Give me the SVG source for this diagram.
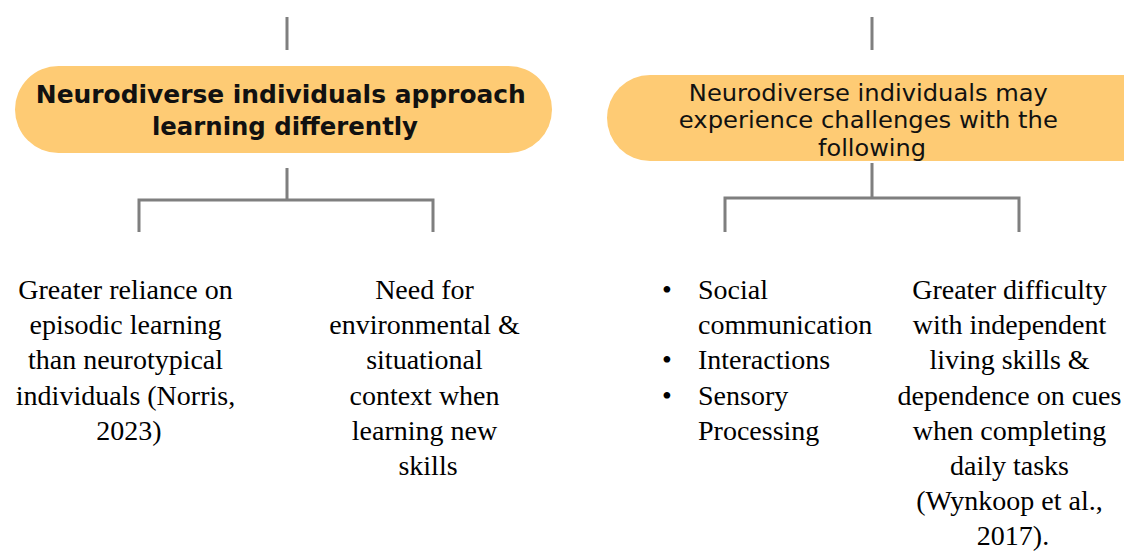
<svg xmlns="http://www.w3.org/2000/svg" width="1124" height="554" viewBox="0 0 1124 554">
  <style>
    .box { fill: #FECB74; }
    .conn { fill: none; stroke: #7F7F7F; stroke-width: 3; }
    .head { font-family: "DejaVu Sans", "Liberation Sans", sans-serif; fill: #111; text-anchor: middle; }
    .body { font-family: "Liberation Serif", "Times New Roman", serif; font-size: 28px; fill: #000; }
    .mid { text-anchor: middle; }
  </style>
  <rect width="1124" height="554" fill="#FFFFFF"/>

  <g id="connectors">
    <line class="conn" x1="287" y1="17" x2="287" y2="50"/>
    <path class="conn" d="M287 168 V200 M139 232 V200 H433 V232"/>
    <line class="conn" x1="872" y1="17" x2="872" y2="50"/>
    <path class="conn" d="M872 163 V198 M725 232 V198 H1019 V232"/>
  </g>

  <g id="node-approach">
    <rect class="box" x="15" y="66" width="537" height="87" rx="43.5"/>
    <text class="head" font-size="24" font-weight="bold">
      <tspan x="285" y="103" textLength="490" lengthAdjust="spacingAndGlyphs">Neurodiverse individuals approach</tspan>
      <tspan x="285" y="135" textLength="266" lengthAdjust="spacingAndGlyphs">learning differently</tspan>
    </text>
  </g>

  <g id="node-challenges">
    <rect class="box" x="607" y="75" width="560" height="86" rx="43"/>
    <text class="head" font-size="23">
      <tspan x="872" y="101" textLength="359" lengthAdjust="spacingAndGlyphs">Neurodiverse individuals may</tspan>
      <tspan x="872" y="128" textLength="379" lengthAdjust="spacingAndGlyphs">experience challenges with the</tspan>
      <tspan x="872" y="156" textLength="108" lengthAdjust="spacingAndGlyphs">following</tspan>
    </text>
  </g>

  <g id="node-episodic">
    <text class="body mid">
      <tspan x="129" y="299">Greater reliance on</tspan>
      <tspan x="129" y="334">episodic learning</tspan>
      <tspan x="129" y="369">than neurotypical</tspan>
      <tspan x="129" y="405">individuals (Norris,</tspan>
      <tspan x="129" y="440">2023)</tspan>
    </text>
  </g>

  <g id="node-context">
    <text class="body mid">
      <tspan x="428" y="299">Need for</tspan>
      <tspan x="428" y="334">environmental &amp;</tspan>
      <tspan x="428" y="369">situational</tspan>
      <tspan x="428" y="405">context when</tspan>
      <tspan x="428" y="440">learning new</tspan>
      <tspan x="428" y="475">skills</tspan>
    </text>
  </g>

  <g id="node-areas">
    <text class="body">
      <tspan x="662" y="299">•</tspan>
      <tspan x="698" y="299">Social</tspan>
      <tspan x="698" y="334">communication</tspan>
      <tspan x="662" y="369">•</tspan>
      <tspan x="698" y="369">Interactions</tspan>
      <tspan x="662" y="405">•</tspan>
      <tspan x="698" y="405">Sensory</tspan>
      <tspan x="698" y="440">Processing</tspan>
    </text>
  </g>

  <g id="node-independent">
    <text class="body mid">
      <tspan x="1013" y="299">Greater difficulty</tspan>
      <tspan x="1013" y="334">with independent</tspan>
      <tspan x="1013" y="369">living skills &amp;</tspan>
      <tspan x="1013" y="405">dependence on cues</tspan>
      <tspan x="1013" y="440">when completing</tspan>
      <tspan x="1013" y="475">daily tasks</tspan>
      <tspan x="1013" y="510">(Wynkoop et al.,</tspan>
      <tspan x="1013" y="545">2017).</tspan>
    </text>
  </g>
</svg>
